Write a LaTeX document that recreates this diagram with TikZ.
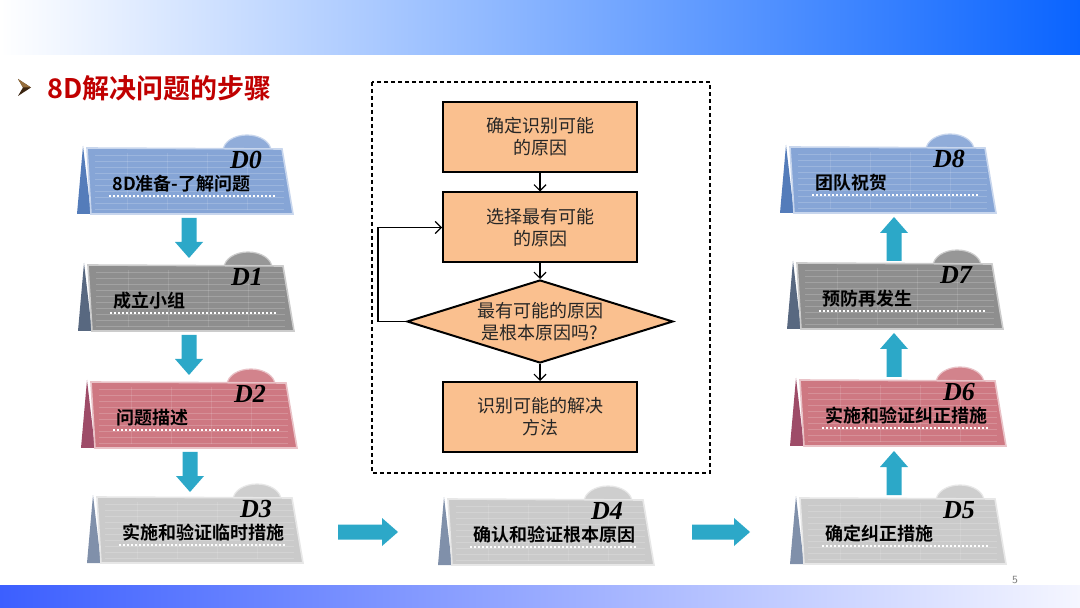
\documentclass[tikz,border=0pt]{standalone}
\usepackage{fontspec}
\newfontfamily\cjk{Noto Sans CJK SC}[BoldFont={Noto Sans CJK SC Bold}]
\newfontfamily\dfont{Liberation Serif}
\usetikzlibrary{shapes.geometric,arrows.meta}
\definecolor{blueM}{RGB}{134,165,214}
\definecolor{blueF}{RGB}{84,124,186}
\definecolor{dgrayM}{RGB}{142,142,142}
\definecolor{dgrayF}{RGB}{88,104,128}
\definecolor{redM}{RGB}{206,120,130}
\definecolor{redF}{RGB}{158,76,104}
\definecolor{lgrayM}{RGB}{202,202,202}
\definecolor{lgrayF}{RGB}{128,144,170}
\definecolor{arrowC}{RGB}{44,168,200}
\definecolor{flowC}{RGB}{250,192,143}
\definecolor{titleR}{RGB}{192,0,0}
\definecolor{topR}{RGB}{10,100,255}
\definecolor{topM}{RGB}{200,206,250}
\definecolor{botL}{RGB}{60,95,255}
\definecolor{botR}{RGB}{245,246,255}
\definecolor{bulletD}{RGB}{60,38,18}
\definecolor{bulletL}{RGB}{150,110,60}
\tikzset{
  dlabel/.style={font=\dfont\bfseries\itshape\fontsize{13}{13}\selectfont, inner sep=0pt},
  cardtext/.style={font=\cjk\bfseries\fontsize{9}{9}\selectfont, anchor=west, inner sep=0pt, text=black},
  dotline/.style={white, line width=1pt, dash pattern=on 1pt off 1pt},
  fbox/.style={draw, line width=1pt, fill=flowC, minimum width=97pt, minimum height=35pt, inner sep=0pt, align=center, font=\cjk\fontsize{9}{11}\selectfont, text={black!85}},
  fdia/.style={diamond, draw, line width=1pt, fill=flowC, minimum width=133pt, minimum height=41.5pt, aspect=3.2, inner sep=0pt, align=center, font=\cjk\fontsize{9}{11}\selectfont, text={black!85}},
  farrow/.style={line width=0.6pt, -{Straight Barb[length=3pt,width=6pt]}}
}
\newcommand\dcard[7]{%
  \begin{scope}[shift={(#2,#3)}]
    \fill[#5] (-4,-2) -- (4,66) -- (-10,66) -- cycle;
    \fill[#4!92!white] (136,3) arc[start angle=180,end angle=360,x radius=24,y radius=16] -- cycle;
    \draw[white!55!#4, line width=0.6pt] (136,3) arc[start angle=180,end angle=360,x radius=24,y radius=16];
    \fill[#4] (0,0) -- (195,1) -- (206,66) -- (4,66) -- cycle;
    \foreach \yy in {7,13,...,61} \draw[white, opacity=.18, line width=.4pt] (8,\yy) -- (197,\yy);
    \foreach \xx in {40,80,...,160} \draw[white, opacity=.12, line width=.4pt] (\xx,5) -- (\xx,62);
    \draw[white!55!#4, line width=.8pt] (0,0) -- (195,1) -- (206,66) -- (4,66) -- cycle;
    \node[dlabel] at (159,12) {#6};
    \node[cardtext] (#1) at (25,36) {#7};
    \draw[dotline] (22,48) -- (190,48);
  \end{scope}}
\newcommand\barrow[4]{%
  \fill[arrowC, shift={(#1,#2)}, rotate=#3] ({-#4/2},-7.5) -- ({#4/2-16},-7.5) -- ({#4/2-16},-14) -- ({#4/2},0) -- ({#4/2-16},14) -- ({#4/2-16},7.5) -- ({-#4/2},7.5) -- cycle;}
\begin{document}
\begin{tikzpicture}[x=0.5pt,y=-0.5pt]
\useasboundingbox (0,0) rectangle (1080,608);
\fill[white] (0,0) rectangle (1080,608);
% bars
\shade[left color=white, middle color=topM, right color=topR] (0,0) rectangle (1080,55);
\shade[left color=botL, right color=botR] (0,585) rectangle (1080,608);
% title
\fill[bulletD] (18,79) -- (31,87.5) -- (18,96) -- (23,87.5) -- cycle;
\fill[bulletL] (18,79) -- (31,87.5) -- (23,87.5) -- cycle;
\node[anchor=west, font=\cjk\bfseries\fontsize{13.5}{13.5}\selectfont, text=titleR, inner sep=0pt] (title) at (47,88) {8D解决问题的步骤};
% cards
\dcard{c0}{87}{148}{blueM}{blueF}{D0}{8D准备-了解问题}
\dcard{c1}{88}{265}{dgrayM}{dgrayF}{D1}{成立小组}
\dcard{c2}{91}{382}{redM}{redF}{D2}{问题描述}
\dcard{c3}{97}{497}{lgrayM}{lgrayF}{D3}{实施和验证临时措施}
\dcard{c4}{448}{499}{lgrayM}{lgrayF}{D4}{确认和验证根本原因}
\dcard{c5}{800}{498}{lgrayM}{lgrayF}{D5}{确定纠正措施}
\dcard{c6}{800}{380}{redM}{redF}{D6}{实施和验证纠正措施}
\dcard{c7}{797}{263}{dgrayM}{dgrayF}{D7}{预防再发生}
\dcard{c8}{790}{147}{blueM}{blueF}{D8}{团队祝贺}
% block arrows
\barrow{189}{238}{-90}{40}
\barrow{189}{355}{-90}{40}
\barrow{190}{472}{-90}{40}
\barrow{368}{532}{0}{60}
\barrow{721}{532}{0}{58}
\barrow{894}{473}{90}{44}
\barrow{894}{355}{90}{44}
\barrow{894}{239}{90}{44}
% flowchart
\draw[line width=0.6pt, dash pattern=on 2pt off 1.5pt] (372,82) rectangle (710,473);
\node[fbox] (f1) at (540,137) {确定识别可能\\的原因};
\node[fbox] (f2) at (540,227.5) {选择最有可能\\的原因};
\node[fdia] (f3) at (540,321.5) {最有可能的原因\\是根本原因吗?};
\node[fbox] (f4) at (540,417) {识别可能的解决\\方法};
\draw[farrow] (f1.south) -- (f2.north);
\draw[farrow] (f2.south) -- (f3.north);
\draw[farrow] (f3.south) -- (f4.north);
\draw[farrow] (f3.west) -- ++(-28,0) |- (f2.west);
% page number
\node[font=\sffamily\fontsize{5.5}{5.5}\selectfont, text=gray] (pg) at (1015,580) {5};
\end{tikzpicture}
\end{document}
